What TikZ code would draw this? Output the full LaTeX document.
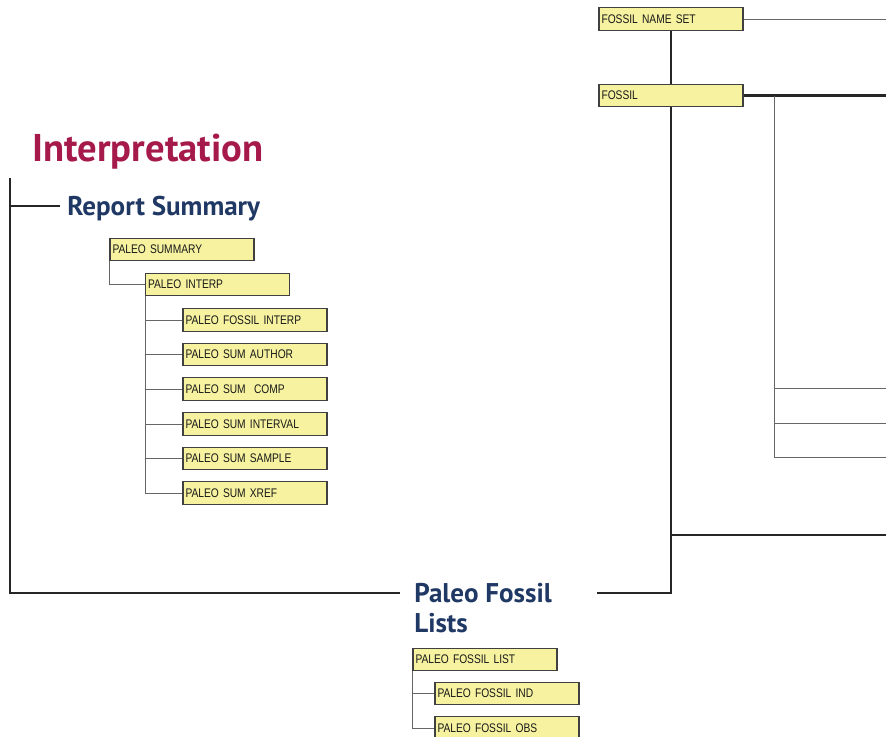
\documentclass[tikz,border=0pt]{standalone}
\usepackage{fontspec}
\setmainfont{Liberation Sans}
\newfontfamily\headfont{PT Sans}
\newfontfamily\boxfont[FakeStretch=0.82]{Liberation Sans}
\usepackage{xcolor}
\usetikzlibrary{positioning}
\definecolor{cCrimson}{RGB}{166,25,75}
\definecolor{cNavy}{RGB}{31,56,100}
\definecolor{cBox}{RGB}{246,242,160}
\tikzset{
	entity/.style ={rectangle, draw=black!75, fill=cBox, line width=0.6pt, minimum height=0.45cm, text width=2.78cm, inner xsep=0.05cm, inner ysep=0pt, align=left, text=black!90, font=\boxfont\fontsize{7.1}{8}\selectfont},
	heading/.style={font=\headfont\bfseries\fontsize{22}{24}\selectfont, text=cCrimson, inner sep=0pt},
	subhead/.style={font=\headfont\bfseries\fontsize{15.4}{17}\selectfont, text=cNavy, inner sep=0pt, align=left},
	% connector styles
	trunk/.style  ={line width=1.6pt, black!85},
	twig/.style   ={line width=0.55pt, black!60},
}
\begin{document}
\begin{tikzpicture}[x=0.02cm, y=-0.02cm]
	\useasboundingbox (0,0) rectangle (886,737);
	\node[heading, anchor=base west] (interp) at (32,161) {Interpretation};
	\node[subhead, anchor=base west] (rs) at (67,215) {Report Summary};
	\node[subhead, anchor=north west] (pflt) at (414,583) {Paleo Fossil\\Lists};
	\node[entity] (fns) at (671,19)   {FOSSIL NAME SET};
	\node[entity] (fos) at (671,95.5) {FOSSIL};
	\node[entity] (psum) at (182,249.5)  {PALEO SUMMARY};
	\node[entity] (pint) at (217.5,284.5) {PALEO INTERP};
	\node[entity] (pfint) at (255,320)   {PALEO FOSSIL INTERP};
	\node[entity] (psaut) at (255,354.5) {PALEO SUM AUTHOR};
	\node[entity] (pscmp) at (255,389)   {PALEO SUM\ \ COMP};
	\node[entity] (psint) at (255,424)   {PALEO SUM INTERVAL};
	\node[entity] (pssmp) at (255,458.5) {PALEO SUM SAMPLE};
	\node[entity] (psxrf) at (255,493)   {PALEO SUM XREF};
	\node[entity] (pfl) at (485,659.5) {PALEO FOSSIL LIST};
	\node[entity] (pfi) at (507,693.5) {PALEO FOSSIL IND};
	\node[entity] (pfo) at (507,728)   {PALEO FOSSIL OBS};
	\coordinate (lb) at (10,178);
	\coordinate (lc) at (10,593);
	\coordinate (rsj) at (10,206);
	\coordinate (rsx) at (60,206);
	\coordinate (pfx) at (400,593);
	\coordinate (pfr) at (597,593);
	\coordinate (tj) at (671,535);
	\coordinate (te) at (886,535);
	\coordinate (fne) at (886,19);
	\coordinate (fe) at (886,95.5);
	\coordinate (gt) at (774,95.5);
	\coordinate (gb) at (774,457);
	\coordinate (g1) at (886,388);
	\coordinate (g2) at (886,423);
	\coordinate (g3) at (886,457);
	\draw[trunk] (lb) -- (lc) -- (pfx);
	\draw[trunk] (rsj) -- (rsx);
	\draw[trunk] (fns) -- (fos);
	\draw[trunk] (fos.south) |- (pfr);
	\draw[trunk] (tj) -- (te);
	\draw[trunk] (fos.east) -- (fe);
	\draw[twig] (fns.east) -- (fne);
	\draw[twig] (gt) -- (gb) -- (g3);
	\draw[twig] (gt |- g1) -- (g1);
	\draw[twig] (gt |- g2) -- (g2);
	\draw[twig] (psum.south west) |- (pint.west);
	\draw[twig] (pint.south west) |- (pfint.west);
	\draw[twig] (pint.south west) |- (psaut.west);
	\draw[twig] (pint.south west) |- (pscmp.west);
	\draw[twig] (pint.south west) |- (psint.west);
	\draw[twig] (pint.south west) |- (pssmp.west);
	\draw[twig] (pint.south west) |- (psxrf.west);
	\draw[twig] (pfl.south west) |- (pfi.west);
	\draw[twig] (pfl.south west) |- (pfo.west);
\end{tikzpicture}
\end{document}
